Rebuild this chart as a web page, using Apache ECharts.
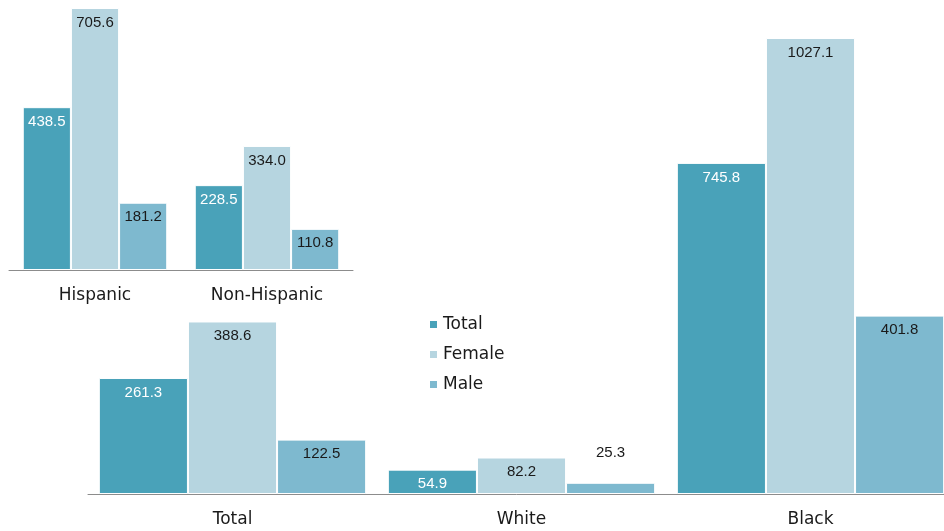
<!DOCTYPE html>
<html>
<head>
<meta charset="utf-8">
<script src="https://cdn.jsdelivr.net/npm/echarts@6/dist/echarts.min.js"></script>
<style>
  html, body { margin: 0; padding: 0; background: #fff; }
  #chart { width: 944px; height: 531px; }
</style>
</head>
<body>
<div id="chart"></div>
<script>
// ethnicity panel (top left)
const topCategories = ["Hispanic", "Non-Hispanic"];
const topTotal = [438.5, 228.5];
const topFemale = [705.6, 334.0];
const topMale = [181.2, 110.8];

// race panel (bottom)
const bottomCategories = ["Total", "White", "Black"];
const bottomTotal = [261.3, 54.9, 745.8];
const bottomFemale = [388.6, 82.2, 1027.1];
const bottomMale = [122.5, 25.3, 401.8];

const colors = {
  total: "#49a2b9",
  female: "#b6d5e0",
  male: "#7eb9cf",
};

const labelFont = "Liberation Sans, Arial, sans-serif";
const textFont = "DejaVu Sans, sans-serif";

const makeLabel = (color) => ({
  show: true,
  position: "insideTop",
  distance: 7,
  color,
  fontFamily: labelFont,
  fontSize: 15,
  formatter: (p) => Number(p.value).toFixed(1),
});

const makeSeries = (name, data, color, labelColor, axisIndex, gap) => ({
  name,
  type: "bar",
  xAxisIndex: axisIndex,
  yAxisIndex: axisIndex,
  data,
  barGap: "0%",
  barCategoryGap: gap,
  itemStyle: { color, borderColor: "#ffffff", borderWidth: 1 },
  label: makeLabel(labelColor),
  emphasis: { disabled: true },
});

const catAxis = (data, gridIndex) => ({
  type: "category",
  gridIndex,
  data,
  axisTick: { show: false },
  axisLine: { lineStyle: { color: "#8c8c8c", width: 1 } },
  axisLabel: {
    color: "#1a1a1a",
    fontFamily: textFont,
    fontSize: 17,
    margin: 17,
  },
});

const valAxis = (gridIndex) => ({
  type: "value",
  gridIndex,
  min: 0,
  max: "dataMax",
  show: false,
  splitLine: { show: false },
});

// the short male bar in "White" keeps its label above the bar
const bottomMaleData = bottomMale.map((v, i) =>
  i === 1 ? { value: v, label: { position: "top", distance: 22 } } : v
);

const chart = echarts.init(document.getElementById("chart"));

chart.setOption({
  animation: false,
  grid: [
    { left: 9, width: 344, top: 8, bottom: 261, outerBoundsMode: "none" },
    // right panel runs past the canvas edge, as in the source
    { left: 88, width: 867, top: 38, bottom: 37, outerBoundsMode: "none" },
  ],
  legend: {
    orient: "vertical",
    left: 423,
    top: 311,
    itemWidth: 9,
    itemHeight: 9,
    itemGap: 13,
    icon: "rect",
    data: ["Total", "Female", "Male"],
    textStyle: {
      color: "#1a1a1a",
      fontFamily: textFont,
      fontSize: 17,
      lineHeight: 17,
    },
    selectedMode: false,
  },
  xAxis: [catAxis(topCategories, 0), catAxis(bottomCategories, 1)],
  yAxis: [valAxis(0), valAxis(1)],
  series: [
    makeSeries("Total", topTotal, colors.total, "#ffffff", 0, "16%"),
    makeSeries("Female", topFemale, colors.female, "#1a1a1a", 0, "16%"),
    makeSeries("Male", topMale, colors.male, "#1a1a1a", 0, "16%"),
    makeSeries("Total", bottomTotal, colors.total, "#ffffff", 1, "7.5%"),
    makeSeries("Female", bottomFemale, colors.female, "#1a1a1a", 1, "7.5%"),
    makeSeries("Male", bottomMaleData, colors.male, "#1a1a1a", 1, "7.5%"),
  ],
});
</script>
</body>
</html>
